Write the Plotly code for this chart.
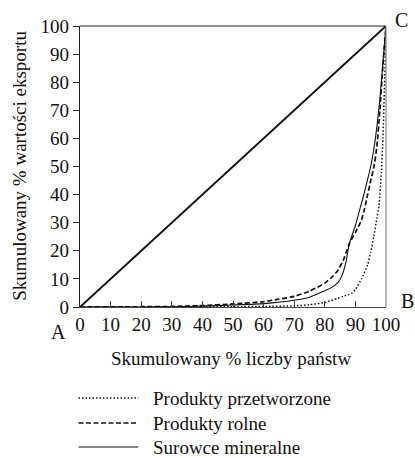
import plotly.graph_objects as go

# ---- data ----
x_equal = [0, 100]
y_equal = [0, 100]

x_przetw = [0, 20, 40, 50, 60, 70, 75, 80, 84, 86, 88, 89, 90, 92, 94, 95, 96, 97, 97.7, 98.5, 99, 99.6, 100]
y_przetw = [0, 0, 0.05, 0.1, 0.2, 0.4, 0.8, 1.6, 3.0, 3.8, 4.5, 5.0, 6.2, 10, 15, 19.5, 25, 31.5, 36, 48, 60, 82, 100]

x_rolne = [0, 20, 30, 40, 50, 60, 65, 70, 75, 80, 82, 84, 86, 88, 90, 92, 93, 94, 95, 96, 97, 98, 99, 100]
y_rolne = [0, 0.1, 0.2, 0.5, 1.1, 1.9, 2.8, 3.8, 5.6, 8.5, 10.3, 12.6, 16.5, 22.5, 26.5, 31, 35, 40, 45, 49.5, 57, 70, 86, 100]

x_surowce = [0, 20, 30, 40, 50, 60, 70, 75, 80, 82, 84, 85, 86, 87, 88, 90, 92, 93, 94, 95, 96, 97, 98, 99, 100]
y_surowce = [0, 0, 0.1, 0.3, 0.7, 1.2, 2.4, 3.5, 5.8, 6.8, 8.4, 9.8, 12.3, 16.5, 22.5, 29, 37, 41, 45.5, 50, 56, 64, 74, 87, 100]

x_ticks = [0, 10, 20, 30, 40, 50, 60, 70, 80, 90, 100]
y_ticks = [0, 10, 20, 30, 40, 50, 60, 70, 80, 90, 100]

legend_names = ["Produkty przetworzone", "Produkty rolne", "Surowce mineralne"]
legend_dash = ["1.5px,2px", "5px,2.5px", "solid"]
legend_width = [1.4, 1.6, 1.2]

x_title = "Skumulowany % liczby państw"
y_title = "Skumulowany % wartości eksportu"

FONT = "Liberation Serif"

fig = go.Figure()
fig.add_trace(go.Scatter(x=x_equal, y=y_equal, mode="lines",
                         line=dict(color="#111", width=2), showlegend=False))
fig.add_trace(go.Scatter(x=x_przetw, y=y_przetw, mode="lines", name=legend_names[0],
                         line=dict(color="#111", width=1.5, dash="1.5px,2px", shape="spline", smoothing=0.5),
                         showlegend=False))
fig.add_trace(go.Scatter(x=x_rolne, y=y_rolne, mode="lines", name=legend_names[1],
                         line=dict(color="#111", width=1.7, dash="5px,2.5px", shape="spline", smoothing=0.5),
                         showlegend=False))
fig.add_trace(go.Scatter(x=x_surowce, y=y_surowce, mode="lines", name=legend_names[2],
                         line=dict(color="#111", width=1.1, shape="spline", smoothing=0.5),
                         showlegend=False))

L, R, T, B = 79.5, 386.5, 26, 307
W, H = R - L, B - T

def px(xp):
    return (xp - L) / W

def py(yp):
    return (B - yp) / H

shapes = [
    dict(type="line", xref="paper", yref="paper", x0=0, x1=1, y0=1, y1=1,
         line=dict(color="#222", width=1.2)),
    dict(type="line", xref="paper", yref="paper", x0=1, x1=1, y0=0, y1=1,
         line=dict(color="#888", width=1.2)),
]

def label(text, x, y, size=19, angle=0, xanchor="center"):
    return dict(text=text, x=px(x), y=py(y), xref="paper", yref="paper", showarrow=False,
                xanchor=xanchor, yanchor="middle", textangle=angle,
                font=dict(size=size, family=FONT, color="#111"))

annotations = [
    label("A", 58, 332, 20),
    label("B", 408, 301, 20),
    label("C", 402, 20, 20),
    label(x_title, 231, 358),
    label(y_title, 18, 166, angle=-90),
]
rows = [398, 423, 447]
for name, dash, w, yy in zip(legend_names, legend_dash, legend_width, rows):
    shapes.append(dict(type="line", xref="paper", yref="paper",
                       x0=px(78), x1=px(138), y0=py(yy), y1=py(yy),
                       line=dict(color="#111", width=w, dash=dash)))
    annotations.append(label(name, 151, yy, xanchor="left"))

fig.update_layout(
    width=415, height=458,
    margin=dict(l=L, r=415 - R, t=T, b=458 - B),
    paper_bgcolor="white", plot_bgcolor="white",
    font=dict(family=FONT, size=19, color="#111"),
    shapes=shapes, annotations=annotations,
    xaxis=dict(range=[0, 100], tickvals=x_ticks, ticks="inside", ticklen=6,
               tickcolor="#444", showline=True, linecolor="#444", linewidth=1.2,
               showgrid=False, zeroline=False, fixedrange=True,
               tickfont=dict(size=19, family=FONT, color="#111")),
    yaxis=dict(range=[0, 100], tickvals=y_ticks, ticks="outside", ticklen=6,
               tickcolor="#222", showline=True, linecolor="#222", linewidth=1.2,
               showgrid=False, zeroline=False, fixedrange=True,
               tickfont=dict(size=19, family=FONT, color="#111")),
    showlegend=False,
)

fig.write_html("out.html", config={"displayModeBar": False},
               post_script="document.body.style.margin='0';document.body.style.overflow='hidden';")
